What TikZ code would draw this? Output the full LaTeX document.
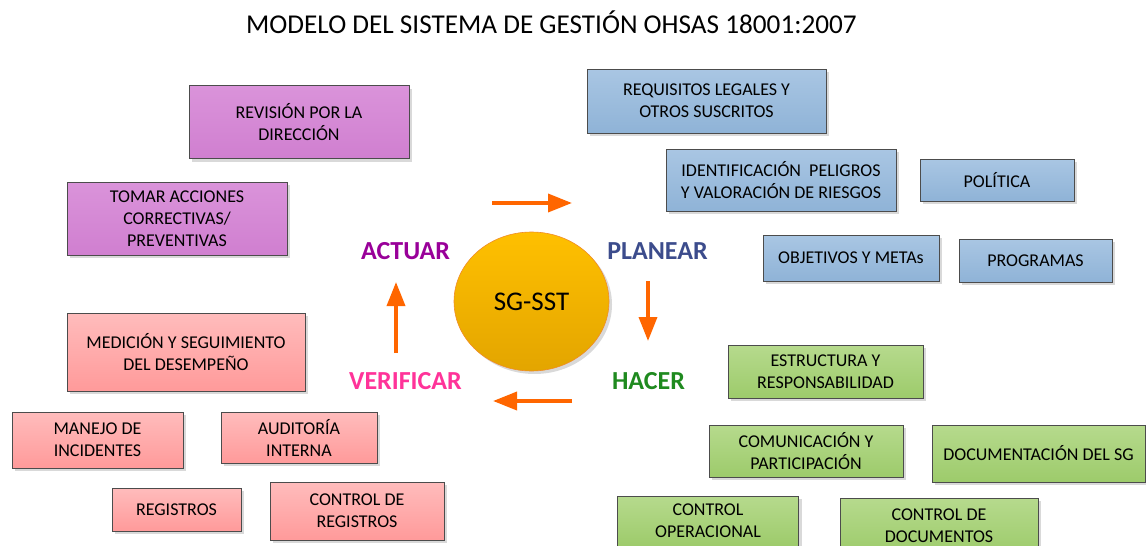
\documentclass[tikz,border=0pt]{standalone}
\usepackage{fontspec}
\setmainfont{Carlito}
\usetikzlibrary{arrows.meta,shadows,shapes.geometric}
\definecolor{flecha}{HTML}{FF6600}
\definecolor{colactuar}{HTML}{990099}
\definecolor{colplanear}{HTML}{3C4C8C}
\definecolor{colhacer}{HTML}{1F8A1F}
\definecolor{colverificar}{HTML}{FF3399}
\definecolor{lilaA}{HTML}{DA93DA}
\definecolor{lilaB}{HTML}{D07FD0}
\definecolor{azulA}{HTML}{A9C6E3}
\definecolor{azulB}{HTML}{8FB3D7}
\definecolor{verdeA}{HTML}{B6DA8D}
\definecolor{verdeB}{HTML}{9DCB6B}
\definecolor{rosaA}{HTML}{FFBCBC}
\definecolor{rosaB}{HTML}{FF9A9A}
\definecolor{oroA}{HTML}{FFC000}
\definecolor{oroB}{HTML}{E3A500}
\definecolor{borde}{HTML}{F08C28}
\tikzset{
	caja/.style={draw=black!70,line width=0.8pt,align=center,inner sep=2pt,
		font=\fontsize{18}{22}\selectfont,
		drop shadow={shadow xshift=3pt,shadow yshift=-3pt,opacity=0.3}},
	tam/.style 2 args={minimum width=#1pt,minimum height=#2pt},
	actuarcaja/.style={caja,top color=lilaA,bottom color=lilaB},
	planearcaja/.style={caja,top color=azulA,bottom color=azulB},
	hacercaja/.style={caja,top color=verdeA,bottom color=verdeB},
	verificarcaja/.style={caja,top color=rosaA,bottom color=rosaB},
	fase/.style={font=\fontsize{26}{30}\selectfont\bfseries},
	ciclo/.style={draw=flecha,line width=3.5pt,-{Triangle[length=24pt,width=18pt]}},
}
\begin{document}
\begin{tikzpicture}[x=1pt,y=-1pt]
\useasboundingbox (0,0) rectangle (1146,546);
\clip (0,0) rectangle (1146,546);
\node[font=\fontsize{27.2}{31}\selectfont] (titulo) at (551.5,22) {MODELO DEL SISTEMA DE GESTIÓN OHSAS 18001:2007};

\node[draw=borde,line width=0.6pt,ellipse,minimum width=155pt,minimum height=139pt,
	top color=oroA,bottom color=oroB,
	drop shadow={shadow xshift=3pt,shadow yshift=-3pt,opacity=0.3},
	font=\fontsize{27}{30}\selectfont] (sgsst) at (531.5,301.5) {SG-SST};

\node[fase,text=colactuar] (actuar) at (405.5,251) {ACTUAR};
\node[fase,text=colplanear] (planear) at (657.5,251) {PLANEAR};
\node[fase,text=colhacer] (hacer) at (648.5,381) {HACER};
\node[fase,text=colverificar] (verificar) at (405.5,381) {VERIFICAR};

\coordinate (a1) at (492,203); \coordinate (a2) at (572,203);
\coordinate (p1) at (648,281); \coordinate (p2) at (648,341);
\coordinate (h1) at (572,401); \coordinate (h2) at (493,401);
\coordinate (v1) at (396,353); \coordinate (v2) at (396,282);
\draw[ciclo] (a1) -- (a2);
\draw[ciclo] (p1) -- (p2);
\draw[ciclo] (h1) -- (h2);
\draw[ciclo] (v1) -- (v2);

\node[actuarcaja,tam={220}{73}] (revision) at (299,122) {REVISIÓN POR LA\\DIRECCIÓN};
\node[actuarcaja,tam={220}{73}] (acciones) at (177,218.5) {TOMAR ACCIONES\\CORRECTIVAS/\\PREVENTIVAS};

\node[planearcaja,tam={239}{64}] (requisitos) at (706.5,101) {REQUISITOS LEGALES Y\\OTROS SUSCRITOS};
\node[planearcaja,tam={230}{62}] (peligros) at (781,180) {IDENTIFICACIÓN\ \ PELIGROS\\Y VALORACIÓN DE RIESGOS};
\node[planearcaja,tam={154}{42}] (politica) at (997,180) {POLÍTICA};
\node[planearcaja,tam={176}{46}] (objetivos) at (851,258) {OBJETIVOS Y METAs};
\node[planearcaja,tam={153}{43}] (programas) at (1035.5,260.5) {PROGRAMAS};

\node[hacercaja,tam={195}{53}] (estructura) at (825.5,371.5) {ESTRUCTURA Y\\RESPONSABILIDAD};
\node[hacercaja,tam={194}{52}] (comunicacion) at (806,451) {COMUNICACIÓN Y\\PARTICIPACIÓN};
\node[hacercaja,tam={213}{57}] (documentacion) at (1038.5,453.5) {DOCUMENTACIÓN DEL SG};
\node[hacercaja,tam={181}{50}] (operacional) at (708,521) {CONTROL\\OPERACIONAL};
\node[hacercaja,tam={198}{56}] (documentos) at (939,526) {CONTROL DE\\DOCUMENTOS};

\node[verificarcaja,tam={238}{78}] (medicion) at (186,352) {MEDICIÓN Y SEGUIMIENTO\\DEL DESEMPEÑO};
\node[verificarcaja,tam={171}{56}] (incidentes) at (97.5,440) {MANEJO DE\\INCIDENTES};
\node[verificarcaja,tam={156}{51}] (auditoria) at (299,437.5) {AUDITORÍA\\INTERNA};
\node[verificarcaja,tam={129}{43}] (registros) at (176.5,509.5) {REGISTROS};
\node[verificarcaja,tam={174}{58}] (ctrlregistros) at (357,511) {CONTROL DE\\REGISTROS};
\end{tikzpicture}
\end{document}
